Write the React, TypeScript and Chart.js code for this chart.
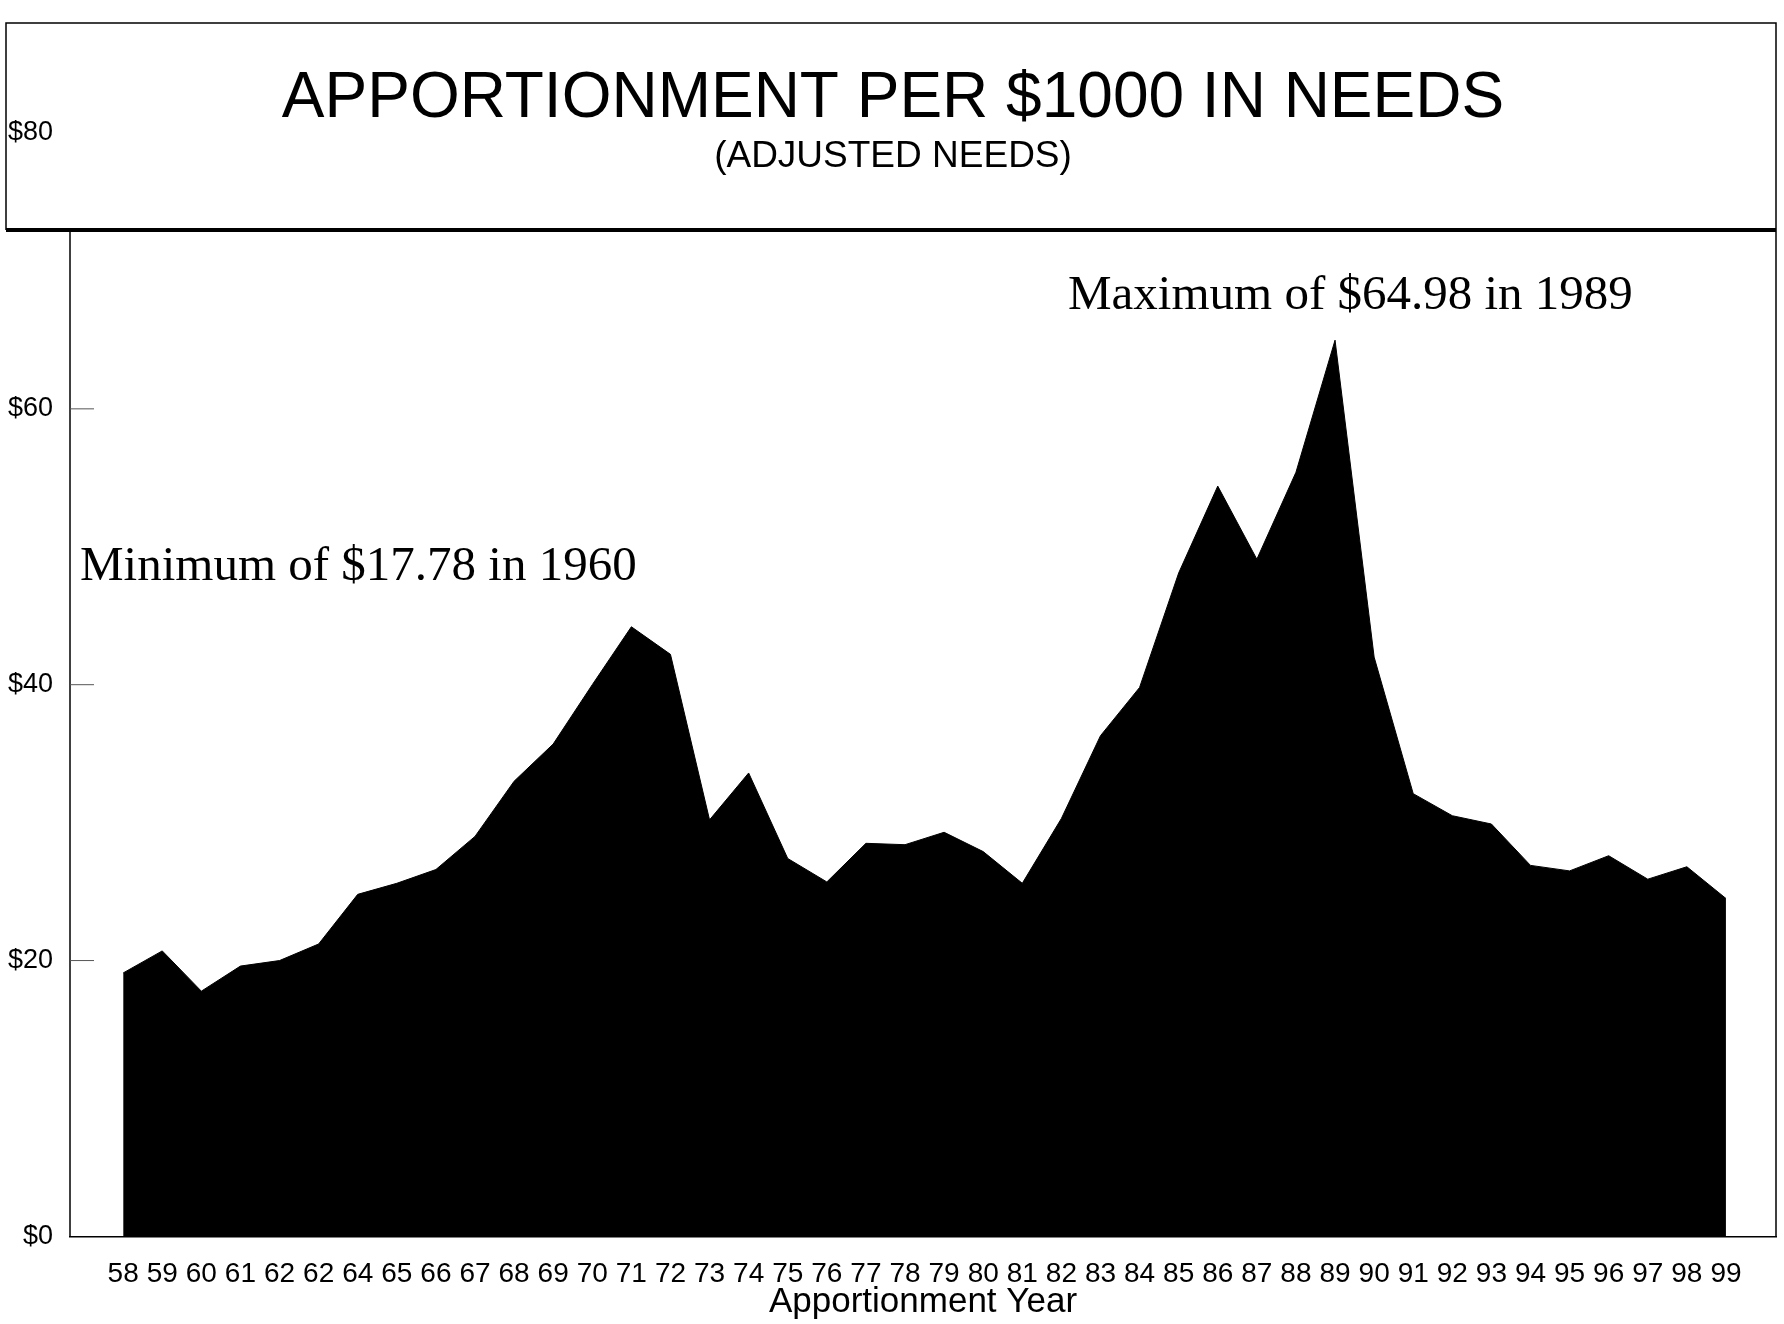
import React, { useEffect, useRef } from "react";
import { Chart, registerables } from "chart.js";

Chart.register(...registerables);

const yearLabels = [
  "58", "59", "60", "61", "62", "62", "64", "65", "66", "67", "68", "69", "70", "71",
  "72", "73", "74", "75", "76", "77", "78", "79", "80", "81", "82", "83", "84", "85",
  "86", "87", "88", "89", "90", "91", "92", "93", "94", "95", "96", "97", "98", "99",
];

const apportionment = [
  19.1, 20.7, 17.78, 19.6, 20.0, 21.2, 24.8, 25.6, 26.6, 29.0, 33.0, 35.7, 40.0, 44.2,
  42.2, 30.2, 33.6, 27.4, 25.7, 28.5, 28.4, 29.3, 27.9, 25.6, 30.3, 36.3, 39.8, 48.1,
  54.4, 49.1, 55.4, 64.98, 42.0, 32.1, 30.5, 29.9, 26.9, 26.5, 27.6, 25.9, 26.8, 24.5,
];

const yTickValues = [0, 20, 40, 60, 80];

const chartTitle = "APPORTIONMENT PER $1000 IN NEEDS";
const chartSubtitle = "(ADJUSTED NEEDS)";
const xAxisTitle = "Apportionment Year";
const maxNote = "Maximum of $64.98 in 1989";
const minNote = "Minimum of $17.78 in 1960";

const SANS = "'Liberation Sans', Arial, Helvetica, sans-serif";
const SERIF = "'Liberation Serif', 'Times New Roman', serif";

const framePlugin = {
  id: "frameAndNotes",
  afterDraw(chart: any) {
    const { ctx, chartArea, scales } = chart;
    const y = scales.y;
    const boxTop = 23;
    const boxBottom = 230;
    const boxLeft = 6;
    const boxRight = chartArea.right;
    ctx.save();

    // title box
    ctx.fillStyle = "#fff";
    ctx.fillRect(boxLeft, boxTop, boxRight - boxLeft, boxBottom - boxTop);
    ctx.strokeStyle = "#000";
    ctx.lineWidth = 1.5;
    ctx.beginPath();
    ctx.moveTo(boxLeft, boxBottom);
    ctx.lineTo(boxLeft, boxTop);
    ctx.lineTo(boxRight, boxTop);
    ctx.lineTo(boxRight, chartArea.bottom);
    ctx.stroke();
    ctx.lineWidth = 4;
    ctx.beginPath();
    ctx.moveTo(boxLeft, boxBottom);
    ctx.lineTo(boxRight, boxBottom);
    ctx.stroke();

    // y axis line
    ctx.lineWidth = 1.5;
    ctx.beginPath();
    ctx.moveTo(chartArea.left, boxBottom);
    ctx.lineTo(chartArea.left, chartArea.bottom);
    ctx.stroke();

    // y ticks and labels
    ctx.font = `27px ${SANS}`;
    ctx.fillStyle = "#000";
    ctx.textAlign = "right";
    ctx.textBaseline = "middle";
    for (const v of yTickValues) {
      const py = y.getPixelForValue(v);
      if (py > boxBottom + 4 && v !== 0) {
        ctx.strokeStyle = "#555";
        ctx.lineWidth = 1;
        ctx.beginPath();
        ctx.moveTo(chartArea.left, py);
        ctx.lineTo(chartArea.left + 24, py);
        ctx.stroke();
      }
      ctx.fillText("$" + v, chartArea.left - 17, py);
    }

    // titles
    ctx.textAlign = "center";
    ctx.textBaseline = "middle";
    ctx.font = `64px ${SANS}`;
    ctx.fillText(chartTitle, 893, 99);
    ctx.font = `37px ${SANS}`;
    ctx.fillText(chartSubtitle, 893, 157);

    // x axis title
    ctx.font = `35px ${SANS}`;
    ctx.fillText(xAxisTitle, (chartArea.left + chartArea.right) / 2, 1302);

    // notes
    ctx.textAlign = "left";
    ctx.textBaseline = "alphabetic";
    ctx.font = `49px ${SERIF}`;
    ctx.fillText(maxNote, 1068, 309);
    ctx.fillText(minNote, 80, 580);

    ctx.restore();
  },
};

export default function App() {
  const canvasRef = useRef<HTMLCanvasElement | null>(null);

  useEffect(() => {
    if (!canvasRef.current) return;
    const chart = new Chart(canvasRef.current, {
      type: "line",
      data: {
        datasets: [
          {
            data: apportionment.map((v, i) => ({ x: i, y: v })),
            fill: "origin",
            backgroundColor: "#000",
            borderColor: "#000",
            borderWidth: 1,
            pointRadius: 0,
            tension: 0,
          },
        ],
      },
      options: {
        responsive: false,
        maintainAspectRatio: false,
        animation: false,
        layout: { padding: { left: 70, right: 8, top: 133, bottom: 12 } },
        plugins: {
          legend: { display: false },
          tooltip: { enabled: false },
          title: { display: false },
        },
        scales: {
          x: {
            type: "linear",
            min: -1.36,
            max: 42.28,
            afterBuildTicks: (scale: any) => {
              scale.ticks = yearLabels.map((_, i) => ({ value: i }));
            },
            ticks: {
              autoSkip: false,
              maxRotation: 0,
              minRotation: 0,
              padding: 21,
              color: "#000",
              font: { family: SANS, size: 28 },
              callback: (value: any) => yearLabels[Math.round(Number(value))] ?? "",
            },
            grid: { display: false, drawTicks: false },
            border: { display: true, color: "#000", width: 1.5 },
            title: { display: false },
          },
          y: {
            display: false,
            min: 0,
            max: 80,
          },
        },
      },
      plugins: [framePlugin],
    });
    return () => chart.destroy();
  }, []);

  return (
    <div style={{ position: "absolute", left: 0, top: 0, width: 1784, height: 1324, background: "#fff" }}>
      <canvas ref={canvasRef} width={1784} height={1324} style={{ display: "block" }} />
    </div>
  );
}
